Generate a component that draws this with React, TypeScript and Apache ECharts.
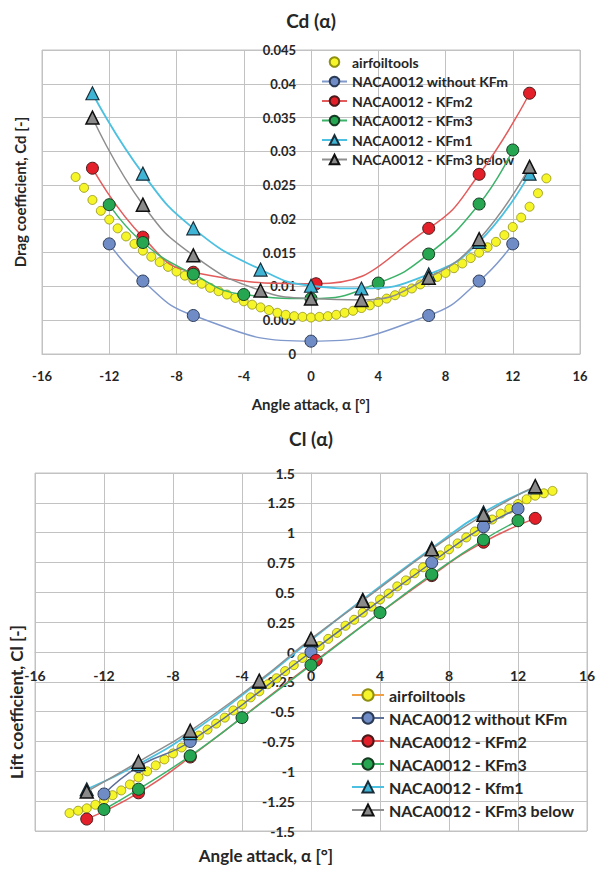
import React, { useEffect, useRef } from "react";
import * as echarts from "echarts";

// ---------- Data ----------
const ALPHA_AF = [
  -14, -13.5, -13, -12.5, -12, -11.5, -11, -10.5, -10, -9.5, -9, -8.5, -8, -7.5, -7, -6.5, -6, -5.5, -5, -4.5,
  -4, -3.5, -3, -2.5, -2, -1.5, -1, -0.5, 0, 0.5, 1, 1.5, 2, 2.5, 3, 3.5, 4, 4.5, 5, 5.5, 6, 6.5, 7, 7.5, 8,
  8.5, 9, 9.5, 10, 10.5, 11, 11.5, 12, 12.5, 13, 13.5, 14,
];
const CD_AIRFOIL = [
  0.0262, 0.0246, 0.0228, 0.0212, 0.0199, 0.0186, 0.0174, 0.0163, 0.0153, 0.0144, 0.0136, 0.0129, 0.0122, 0.0116,
  0.011, 0.0104, 0.0098, 0.0093, 0.0088, 0.0083, 0.0078, 0.0073, 0.0069, 0.0065, 0.0061, 0.0058, 0.0056, 0.0055,
  0.0054, 0.0055, 0.0056, 0.0058, 0.0061, 0.0064, 0.0068, 0.0072, 0.0077, 0.0082, 0.0087, 0.0092, 0.0097, 0.0103,
  0.0109, 0.0114, 0.012, 0.0127, 0.0134, 0.0142, 0.015, 0.0158, 0.0166, 0.0176, 0.0188, 0.0202, 0.0218, 0.0238,
  0.026,
];
const CL_AIRFOIL = [
  -1.35, -1.33, -1.31, -1.28, -1.24, -1.2, -1.16, -1.11, -1.05, -1.0, -0.95, -0.9, -0.85, -0.8, -0.75, -0.7, -0.65,
  -0.6, -0.55, -0.49, -0.44, -0.38, -0.33, -0.27, -0.22, -0.16, -0.11, -0.05, 0, 0.05, 0.11, 0.16, 0.22, 0.27, 0.33,
  0.38, 0.44, 0.49, 0.55, 0.6, 0.66, 0.71, 0.76, 0.81, 0.86, 0.91, 0.96, 1.01, 1.06, 1.11, 1.16, 1.2, 1.24, 1.28,
  1.31, 1.33, 1.35,
];

const ALPHA_NOKFM = [-12, -10, -7, 0, 7, 10, 12];
const CD_NOKFM = [0.0163, 0.0108, 0.0057, 0.0019, 0.0057, 0.0108, 0.0163];
const CL_NOKFM = [-1.19, -0.96, -0.75, 0.0, 0.75, 1.05, 1.2];

const ALPHA_KFM2 = [-13, -10, -7, 0.3, 7, 10, 13];
const CD_KFM2 = [0.0275, 0.0173, 0.0121, 0.0104, 0.0186, 0.0266, 0.0386];
const CL_KFM2 = [-1.4, -1.18, -0.88, -0.07, 0.64, 0.92, 1.12];

const ALPHA_KFM3 = [-12, -10, -7, -4, 0, 4, 7, 10, 12];
const CD_KFM3 = [0.0221, 0.0165, 0.0118, 0.0088, 0.0082, 0.0105, 0.0148, 0.0222, 0.0302];
const CL_KFM3 = [-1.32, -1.15, -0.87, -0.55, -0.11, 0.33, 0.65, 0.94, 1.1];

const ALPHA_KFM1 = [-13, -10, -7, -3, 0, 3, 7, 10, 13];
const CD_KFM1 = [0.0386, 0.0267, 0.0186, 0.0125, 0.0101, 0.0097, 0.0118, 0.0166, 0.0267];
const CL_KFM1 = [-1.15, -0.94, -0.68, -0.25, 0.1, 0.44, 0.87, 1.17, 1.38];

const ALPHA_KFM3B = [-13, -10, -7, -3, 0, 3, 7, 10, 13];
const CD_KFM3B = [0.035, 0.0221, 0.0146, 0.0094, 0.0082, 0.008, 0.0113, 0.017, 0.0277];
const CL_KFM3B = [-1.17, -0.92, -0.66, -0.24, 0.11, 0.43, 0.86, 1.15, 1.39];

const X_MIN = -16;
const X_MAX = 16;

// ---------- Styling ----------
const FONT = "Lato, 'Open Sans', sans-serif";
const GRID_C = "#C2C2C2";
const TXT = "#262626";

// layout (pixels)
const G1 = { left: 42, top: 50, width: 538, height: 304 };
const G2 = { left: 35, top: 473, width: 552, height: 358 };

const pairs = (xs: number[], ys: number[]) => xs.map((x, i) => [x, ys[i]]);

function mkSeries(
  name: string,
  xs: number[],
  ys: number[],
  idx: number,
  o: { symbol: string; size: number; fill: string; border: string; bw: number; line: string; lw: number; z: number }
) {
  return {
    name,
    type: "line",
    xAxisIndex: idx,
    yAxisIndex: idx,
    data: pairs(xs, ys),
    smooth: 0.5,
    symbol: o.symbol,
    symbolSize: o.size,
    showSymbol: true,
    showAllSymbol: true,
    z: o.z,
    itemStyle: { color: o.fill, borderColor: o.border, borderWidth: o.bw },
    lineStyle: { color: o.line, width: o.lw },
    emphasis: { disabled: true },
  };
}

const STY = {
  air: { symbol: "circle", size: 9, fill: "#F5F52A", border: "#8F8F10", bw: 0.8, line: "#F0A040", lw: 0, z: 2 },
  nokfm: { symbol: "circle", size: 12, fill: "#6F8CC6", border: "#2B3A55", bw: 1, line: "#8099CC", lw: 1.5, z: 3 },
  kfm2: { symbol: "circle", size: 12, fill: "#E3202A", border: "#4A1A1A", bw: 1, line: "#E35B5B", lw: 1.5, z: 4 },
  kfm3: { symbol: "circle", size: 12, fill: "#27A651", border: "#163A22", bw: 1, line: "#3DB36A", lw: 1.5, z: 5 },
  kfm1: { symbol: "triangle", size: 13, fill: "#3FB4D4", border: "#1A2E3A", bw: 1.2, line: "#4CC0E0", lw: 1.8, z: 6 },
  kfm3b: { symbol: "triangle", size: 13, fill: "#8A8A8A", border: "#111111", bw: 1.5, line: "#8E8E8E", lw: 1.5, z: 7 },
};

const axisLabel = (fs: number, margin: number, fmt?: (v: number) => string) => ({
  color: TXT,
  fontFamily: FONT,
  fontWeight: "bold",
  fontSize: fs,
  margin,
  formatter: fmt,
});

const txt = (text: string, x: number, y: number, size: number, rot = 0) => ({
  type: "text",
  x,
  y,
  rotation: rot,
  style: {
    text,
    fill: TXT,
    font: `bold ${size}px ${FONT}`,
    textAlign: "center",
    textVerticalAlign: "middle",
    align: "center",
    verticalAlign: "middle",
  },
});

export default function App() {
  const ref = useRef<HTMLDivElement>(null);

  useEffect(() => {
    document.body.style.margin = "0";
    const chart = echarts.init(ref.current!, null, { renderer: "svg" });

    const series = [
      mkSeries("airfoiltools", ALPHA_AF, CD_AIRFOIL, 0, STY.air),
      mkSeries("NACA0012 without KFm", ALPHA_NOKFM, CD_NOKFM, 0, STY.nokfm),
      mkSeries("NACA0012 - KFm2", ALPHA_KFM2, CD_KFM2, 0, STY.kfm2),
      mkSeries("NACA0012 - KFm3", ALPHA_KFM3, CD_KFM3, 0, STY.kfm3),
      mkSeries("NACA0012 - KFm1", ALPHA_KFM1, CD_KFM1, 0, STY.kfm1),
      mkSeries("NACA0012 - KFm3 below", ALPHA_KFM3B, CD_KFM3B, 0, STY.kfm3b),

      mkSeries("airfoiltools ", ALPHA_AF, CL_AIRFOIL, 1, { ...STY.air, lw: 1.5 }),
      mkSeries("NACA0012 without KFm ", ALPHA_NOKFM, CL_NOKFM, 1, { ...STY.nokfm, line: "#5C6F96" }),
      mkSeries("NACA0012 - KFm2", ALPHA_KFM2, CL_KFM2, 1, STY.kfm2),
      mkSeries("NACA0012 - KFm3", ALPHA_KFM3, CL_KFM3, 1, STY.kfm3),
      mkSeries("NACA0012 - Kfm1", ALPHA_KFM1, CL_KFM1, 1, STY.kfm1),
      mkSeries("NACA0012 - KFm3 below", ALPHA_KFM3B, CL_KFM3B, 1, STY.kfm3b),
    ];

    const xAxisBase = {
      type: "value",
      min: X_MIN,
      max: X_MAX,
      interval: 4,
      axisTick: { show: false },
      splitLine: { show: true, lineStyle: { color: GRID_C, width: 1 } },
    };

    const option: any = {
      animation: false,
      backgroundColor: "#ffffff",
      grid: [
        { ...G1, show: true, borderColor: GRID_C, borderWidth: 1 },
        { ...G2, show: true, borderColor: GRID_C, borderWidth: 1 },
      ],
      xAxis: [
        {
          ...xAxisBase,
          gridIndex: 0,
          axisLine: { show: true, onZero: false, lineStyle: { color: GRID_C } },
          axisLabel: axisLabel(13, 15),
        },
        {
          ...xAxisBase,
          gridIndex: 1,
          position: "bottom",
          offset: -(G2.height / 2),
          axisLine: { show: true, onZero: false, lineStyle: { color: GRID_C } },
          axisLabel: axisLabel(14, 16),
        },
      ],
      yAxis: [
        {
          type: "value",
          gridIndex: 0,
          min: 0,
          max: 0.045,
          interval: 0.005,
          position: "left",
          offset: -(G1.width / 2),
          axisTick: { show: false },
          axisLine: { show: true, onZero: false, lineStyle: { color: GRID_C } },
          splitLine: { show: true, lineStyle: { color: GRID_C, width: 1 } },
          axisLabel: axisLabel(13, 15, (v: number) => String(+v.toFixed(3))),
        },
        {
          type: "value",
          gridIndex: 1,
          min: -1.5,
          max: 1.5,
          interval: 0.25,
          position: "left",
          offset: -(G2.width / 2),
          axisTick: { show: false },
          axisLine: { show: true, onZero: false, lineStyle: { color: GRID_C } },
          splitLine: { show: true, lineStyle: { color: GRID_C, width: 1 } },
          axisLabel: axisLabel(14, 16, (v: number) => String(+v.toFixed(2))),
        },
      ],
      legend: [
        {
          orient: "vertical",
          left: 316,
          top: 50,
          itemWidth: 25,
          itemHeight: 12,
          itemGap: 5.5,
          selectedMode: false,
          textStyle: { color: TXT, fontFamily: FONT, fontWeight: "bold", fontSize: 14 },
          data: [
            "airfoiltools",
            "NACA0012 without KFm",
            "NACA0012 - KFm2",
            "NACA0012 - KFm3",
            "NACA0012 - KFm1",
            "NACA0012 - KFm3 below",
          ],
        },
        {
          orient: "vertical",
          left: 346,
          top: 682,
          itemWidth: 32,
          itemHeight: 14,
          itemGap: 7,
          selectedMode: false,
          textStyle: { color: TXT, fontFamily: FONT, fontWeight: "bold", fontSize: 16 },
          data: [
            "airfoiltools ",
            "NACA0012 without KFm ",
            "NACA0012 - KFm2",
            "NACA0012 - KFm3",
            "NACA0012 - Kfm1",
            "NACA0012 - KFm3 below",
          ],
        },
      ],
      graphic: [
        txt("Cd (α)", 311, 20, 19),
        txt("Angle attack, α [°]", 311, 404, 15),
        txt("Drag coefficient, Cd [-]", 20, 192, 15, Math.PI / 2),
        txt("Cl (α)", 311, 438, 19),
        txt("Angle attack, α [°]", 266, 855, 17),
        txt("Lift coefficient, Cl [-]", 16, 702, 17, Math.PI / 2),
      ],
      series,
    };

    chart.setOption(option);
    return () => chart.dispose();
  }, []);

  return <div ref={ref} style={{ width: 599, height: 872 }} />;
}
